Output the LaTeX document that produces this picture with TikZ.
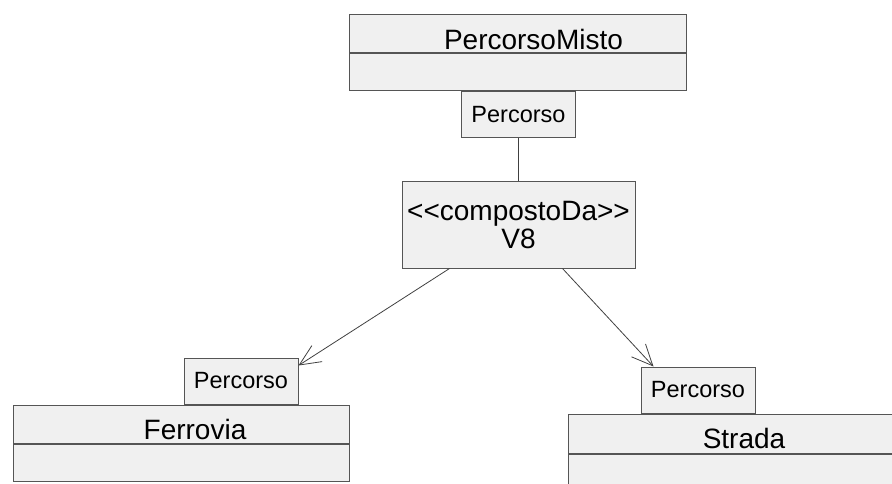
\documentclass[tikz,border=0pt]{standalone}
\usepackage{fontspec}
\setmainfont{Liberation Sans}
\usetikzlibrary{arrows.meta,positioning}
\definecolor{boxfill}{HTML}{F0F0F0}
\definecolor{boxline}{HTML}{555555}
\definecolor{linkline}{HTML}{404040}
\tikzset{
  classpart/.style={draw=boxline, fill=boxfill, line width=1pt, inner sep=0pt,
    minimum width=#1, minimum height=38pt},
  classname/.style={inner sep=0pt, font=\fontsize{28}{28}\selectfont},
  portbox/.style={draw=boxline, fill=boxfill, line width=1pt, inner sep=0pt,
    minimum width=114pt, minimum height=46pt, font=\fontsize{23.5}{24}\selectfont},
  assocbox/.style={draw=boxline, fill=boxfill, line width=1pt, inner sep=0pt,
    minimum width=233pt, minimum height=86pt, align=center,
    font=\fontsize{28}{28}\selectfont},
  link/.style={draw=linkline, line width=0.8pt},
  navlink/.style={link, -{Straight Barb[length=21pt,width=19pt,line width=0.8pt]}}
}
\begin{document}
\begin{tikzpicture}[x=1pt, y=-1pt]
    \useasboundingbox (0,0) rectangle (892,484);
    \clip (0,0) rectangle (892,484);
    % PercorsoMisto
    \node[classpart=337pt] (mistohead) at (517.5,34) {};
    \node[classpart=337pt, minimum height=37pt, below=0pt of mistohead] (mistobody) {};
    \node[classname] (mistoname) at ([xshift=16pt,yshift=-5pt]mistohead.center) {PercorsoMisto};
    \node[portbox, below=0pt of mistobody, xshift=1pt] (mistoport) {Percorso};
    % association
    \node[assocbox] (v8) at (518.5,225) {<{}<compostoDa>{}>\\V8};
    % Ferrovia
    \node[classpart=336pt] (ferrhead) at (181,424) {};
    \node[classpart=336pt, minimum height=37pt, below=0pt of ferrhead] (ferrbody) {};
    \node[classname] (ferrname) at ([xshift=14pt,yshift=-5pt]ferrhead.center) {Ferrovia};
    \node[portbox, above=0pt of ferrhead, xshift=60pt] (ferrport) {Percorso};
    % Strada
    \node[classpart=326pt, minimum height=39pt] (strhead) at (731,433.5) {};
    \node[classpart=326pt, minimum height=40pt, below=0pt of strhead] (strbody) {};
    \node[classname] (strname) at ([xshift=13pt,yshift=-5pt]strhead.center) {Strada};
    \node[portbox, above=0pt of strhead, xshift=-33pt] (strport) {Percorso};
    % links
    \draw[link] (mistoport) -- (v8);
    \draw[navlink] ([xshift=48pt]v8.south west) -- ([yshift=-8pt]ferrport.north east);
    \draw[navlink] ([xshift=-73pt]v8.south east) -- ([xshift=13pt]strport.north west);
\end{tikzpicture}
\end{document}
